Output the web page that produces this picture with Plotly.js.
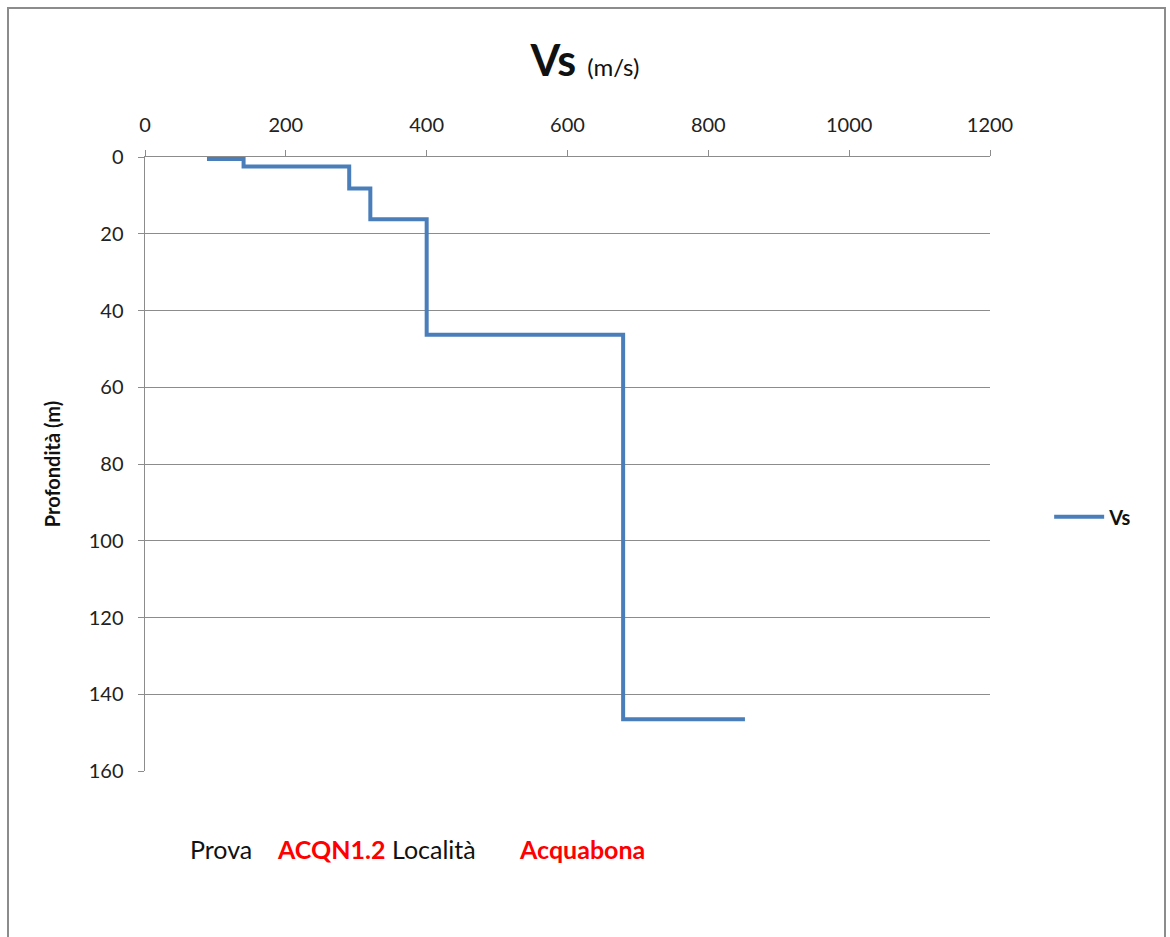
<!DOCTYPE html>
<html><head><meta charset="utf-8">
<script src="https://cdn.plot.ly/plotly-3.0.1.min.js"></script>
<style>
html,body{margin:0;padding:0;background:#fff;}
#frame{position:absolute;left:7px;top:7px;width:1155px;height:945px;border:2px solid #8c8c8c;}
#chart{position:absolute;left:0;top:0;width:1170px;height:937px;}
</style></head>
<body>
<div id="frame"></div>
<div id="chart"></div>
<script>
const velocity = [88, 140, 290, 320, 400, 679, 852];
const depth = [0.5, 2.5, 8.2, 16.2, 46.3, 146.5, 146.5];
const xTicks = [0, 200, 400, 600, 800, 1000, 1200];
const yTicks = [0, 20, 40, 60, 80, 100, 120, 140, 160];

const FONT = 'Lato, "Open Sans", sans-serif';
const trace = {
  x: velocity, y: depth, type: 'scatter', mode: 'lines', name: '<b>Vs</b>',
  line: {shape: 'hv', color: '#4a7ebb', width: 4}
};
const layout = {
  width: 1170, height: 937,
  margin: {l: 145, r: 180, t: 157, b: 166},
  paper_bgcolor: 'rgba(0,0,0,0)', plot_bgcolor: 'rgba(0,0,0,0)',
  font: {family: FONT, color: '#222', size: 20},
  title: {text: '<b>Vs</b> <span style="font-size:24px">(m/s)</span>', x: 0.5, xanchor: 'center', y: 0.935, yanchor: 'middle', font: {family: FONT, size: 43, color: '#111'}},
  xaxis: {side: 'top', range: [0, 1200], tickvals: xTicks, ticktext: xTicks.map(String),
    showgrid: false, zeroline: false, showline: true, linecolor: '#8c8c8c', linewidth: 1.5,
    ticks: 'outside', ticklen: 6, tickcolor: '#8c8c8c', tickfont: {size: 20, color: '#222'}, ticklabelstandoff: 10},
  yaxis: {range: [160, 0], tickvals: yTicks, ticktext: yTicks.map(String),
    showgrid: true, gridcolor: '#8c8c8c', gridwidth: 1, zeroline: false, showline: true, linecolor: '#8c8c8c', linewidth: 1.5,
    ticks: 'outside', ticklen: 6, tickcolor: '#8c8c8c', tickfont: {size: 20, color: '#222'}, ticklabelstandoff: 10,
    title: {text: '<b>Profondità (m)</b>', font: {size: 20, color: '#111'}, standoff: 22}},
  showlegend: true,
  legend: {x: 1.07, y: 0.414, xanchor: 'left', yanchor: 'middle', font: {size: 20, color: '#111'}, bgcolor: 'rgba(0,0,0,0)', itemwidth: 50},
  annotations: [
    {xref: 'paper', yref: 'paper', x: 0.051, y: -0.127, xanchor: 'left', yanchor: 'middle', showarrow: false, text: 'Prova', font: {size: 25, color: '#111'}},
    {xref: 'paper', yref: 'paper', x: 0.154, y: -0.127, xanchor: 'left', yanchor: 'middle', showarrow: false, text: '<b>ACQN1.2</b>', font: {size: 25, color: '#ff0000'}},
    {xref: 'paper', yref: 'paper', x: 0.290, y: -0.127, xanchor: 'left', yanchor: 'middle', showarrow: false, text: 'Località', font: {size: 25, color: '#111'}},
    {xref: 'paper', yref: 'paper', x: 0.440, y: -0.127, xanchor: 'left', yanchor: 'middle', showarrow: false, text: '<b>Acquabona</b>', font: {size: 25, color: '#ff0000'}}
  ]
};
Plotly.newPlot('chart', [trace], layout, {displayModeBar: false, staticPlot: true});
</script>
</body></html>
